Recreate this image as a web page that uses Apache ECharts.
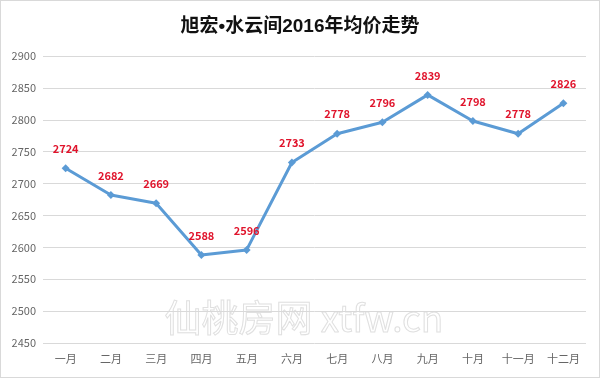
<!DOCTYPE html>
<html>
<head>
<meta charset="utf-8">
<script src="https://cdn.jsdelivr.net/npm/echarts@6/dist/echarts.min.js"></script>
<style>
  html, body { margin: 0; padding: 0; background: #fff; }
  #chart { width: 600px; height: 378px; box-sizing: border-box; border: 1px solid #d9d9d9; }
</style>
</head>
<body>
<div id="chart"></div>
<script>
const months = ['一月', '二月', '三月', '四月', '五月', '六月', '七月', '八月', '九月', '十月', '十一月', '十二月'];
const prices = [2724, 2682, 2669, 2588, 2596, 2733, 2778, 2796, 2839, 2798, 2778, 2826];

const chart = echarts.init(document.getElementById('chart'));
const font = '"Noto Sans CJK SC", sans-serif';

chart.setOption({
  animation: false,
  title: {
    text: '旭宏•水云间2016年均价走势',
    left: 'center',
    top: 11,
    textStyle: { fontSize: 19, fontWeight: 'bold', color: '#111', fontFamily: '"Liberation Sans", "Noto Sans CJK SC", sans-serif' }
  },
  graphic: [{
    type: 'text',
    left: 163,
    top: 298,
    silent: true,
    style: {
      text: '仙桃房网 xtfw.cn',
      fontSize: 37,
      fontFamily: font,
      fill: 'rgba(255,255,255,0)',
      stroke: '#e0e0e0',
      lineWidth: 1
    }
  }],
  grid: { left: 42, right: 13, top: 55, bottom: 34 },
  xAxis: {
    type: 'category',
    data: months,
    axisLine: { show: false },
    axisTick: { show: false },
    axisLabel: { color: '#666', fontSize: 11, fontFamily: font, margin: 10, interval: 0 }
  },
  yAxis: {
    type: 'value',
    min: 2450,
    max: 2900,
    interval: 50,
    axisLine: { show: false },
    axisTick: { show: false },
    axisLabel: { color: '#666', fontSize: 11, fontFamily: font, margin: 7, formatter: (v) => String(v) },
    splitLine: { lineStyle: { color: '#d9d9d9', width: 1 } }
  },
  series: [{
    type: 'line',
    data: prices,
    symbol: 'diamond',
    symbolSize: 8,
    lineStyle: { color: '#5b9bd5', width: 3 },
    itemStyle: { color: '#5b9bd5' },
    label: {
      show: true,
      position: 'top',
      distance: 10,
      color: '#e0142c',
      fontWeight: 'bold',
      fontSize: 11,
      fontFamily: font
    }
  }]
});
</script>
</body>
</html>
